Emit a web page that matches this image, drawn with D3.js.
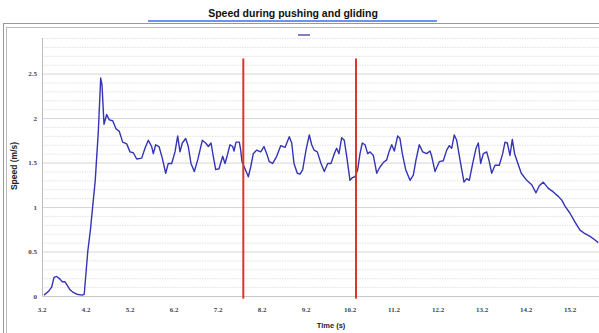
<!DOCTYPE html>
<html><head><meta charset="utf-8">
<script src="https://cdn.jsdelivr.net/npm/d3@7"></script>
<style>html,body{margin:0;padding:0;background:#fff;overflow:hidden}</style>
</head><body>
<svg id="c" width="599" height="333"></svg>
<script>
const title = "Speed during pushing and gliding";
const xLabel = "Time (s)";
const yLabel = "Speed (m/s)";
const xTicks = [3.2,4.2,5.2,6.2,7.2,8.2,9.2,10.2,11.2,12.2,13.2,14.2,15.2];
const yTicks = [0,0.5,1,1.5,2,2.5];
const yTickLabels = ["0","0.5","1","1.5","2","2.5"];
const markerTimes = [7.775, 10.336];
const markerRange = [-0.03, 2.67];
const time = [3.245,3.343,3.420,3.473,3.534,3.609,3.661,3.723,3.775,3.836,3.911,3.989,4.120,4.160,4.240,4.300,4.410,4.480,4.534,4.564,4.609,4.670,4.730,4.807,4.882,4.957,5.034,5.125,5.200,5.275,5.352,5.466,5.541,5.616,5.693,5.730,5.784,5.859,5.934,6.011,6.070,6.148,6.223,6.284,6.336,6.389,6.466,6.525,6.586,6.661,6.739,6.843,6.920,6.980,7.041,7.093,7.148,7.223,7.307,7.359,7.411,7.473,7.534,7.564,7.609,7.684,7.716,7.745,7.814,7.889,7.943,8.002,8.080,8.170,8.245,8.307,8.366,8.443,8.534,8.625,8.723,8.820,8.875,8.927,9.002,9.064,9.125,9.200,9.275,9.330,9.382,9.457,9.541,9.616,9.693,9.768,9.843,9.898,9.950,10.011,10.070,10.125,10.200,10.252,10.314,10.375,10.427,10.480,10.541,10.602,10.655,10.730,10.807,10.882,10.957,11.034,11.086,11.148,11.207,11.284,11.336,11.389,11.466,11.564,11.639,11.700,11.775,11.852,11.943,12.018,12.057,12.132,12.230,12.320,12.398,12.457,12.511,12.570,12.625,12.700,12.791,12.852,12.911,12.989,13.064,13.116,13.170,13.230,13.307,13.366,13.420,13.495,13.593,13.670,13.723,13.775,13.836,13.889,13.941,14.016,14.093,14.216,14.330,14.427,14.502,14.593,14.707,14.820,14.934,15.011,15.086,15.200,15.314,15.427,15.541,15.655,15.768,15.843];
const speed = [0.01,0.05,0.10,0.21,0.22,0.19,0.16,0.16,0.12,0.07,0.04,0.02,0.01,0.02,0.50,0.74,1.30,1.85,2.45,2.37,1.93,2.04,1.98,1.97,1.88,1.85,1.73,1.71,1.62,1.61,1.54,1.55,1.66,1.75,1.68,1.60,1.70,1.68,1.55,1.38,1.49,1.49,1.62,1.80,1.62,1.72,1.77,1.68,1.49,1.40,1.53,1.75,1.72,1.68,1.72,1.57,1.42,1.43,1.57,1.49,1.58,1.70,1.68,1.63,1.73,1.73,1.64,1.51,1.43,1.34,1.45,1.60,1.64,1.62,1.68,1.60,1.51,1.49,1.57,1.69,1.67,1.79,1.72,1.49,1.38,1.37,1.42,1.64,1.81,1.70,1.64,1.62,1.49,1.40,1.49,1.49,1.60,1.66,1.60,1.78,1.75,1.57,1.30,1.33,1.34,1.42,1.60,1.72,1.70,1.60,1.62,1.58,1.38,1.45,1.50,1.53,1.62,1.70,1.63,1.80,1.77,1.60,1.42,1.30,1.36,1.53,1.70,1.62,1.60,1.63,1.57,1.40,1.51,1.52,1.64,1.69,1.66,1.81,1.75,1.53,1.28,1.32,1.30,1.49,1.66,1.72,1.49,1.60,1.62,1.51,1.38,1.47,1.47,1.60,1.73,1.72,1.58,1.76,1.60,1.49,1.38,1.30,1.25,1.16,1.24,1.28,1.21,1.17,1.12,1.08,1.01,0.93,0.83,0.74,0.70,0.67,0.63,0.60];

const svg = d3.select("#c");
const x = d3.scaleLinear().domain([3.2, 15.9]).range([42, 600.8]);
const y = d3.scaleLinear().domain([0, 2.9]).range([296, 38]);

// frame
svg.append("rect").attr("x",3.5).attr("y",23.5).attr("width",600).attr("height",320)
  .attr("fill","none").attr("stroke","#999").attr("stroke-width",1);
svg.append("rect").attr("x",6.5).attr("y",27.5).attr("width",600).attr("height",320)
  .attr("fill","none").attr("stroke","#bbb").attr("stroke-width",1);

// title
svg.append("text").attr("x",293).attr("y",17).attr("text-anchor","middle")
  .attr("font-family","Liberation Sans, Arial, sans-serif").attr("font-weight","bold")
  .attr("font-size",10.5).attr("fill","#111").text(title);
svg.append("line").attr("x1",148).attr("x2",437).attr("y1",21).attr("y2",21)
  .attr("stroke","#3b6ff0").attr("stroke-width",1.3);

// legend mark
svg.append("line").attr("x1",298).attr("x2",310).attr("y1",35).attr("y2",35)
  .attr("stroke","#6060c0").attr("stroke-width",1.6);

// gridlines
const minor = d3.range(1, 30).map(i => i / 10).filter(v => Math.abs(v*2 - Math.round(v*2)) > 1e-6);
svg.append("g").selectAll("line").data(minor).join("line")
  .attr("x1",42).attr("x2",599).attr("y1",d=>y(d)+0.5).attr("y2",d=>y(d)+0.5)
  .attr("stroke","#e2e2e2").attr("stroke-dasharray","1.5,1");
svg.append("g").selectAll("line").data(yTicks.filter(v=>v>0)).join("line")
  .attr("x1",42).attr("x2",599).attr("y1",d=>y(d)+0.5).attr("y2",d=>y(d)+0.5)
  .attr("stroke","#d6d6d6");

// axes lines
svg.append("line").attr("x1",42.5).attr("x2",42.5).attr("y1",y(2.9)).attr("y2",y(0))
  .attr("stroke","#bbb");
svg.append("line").attr("x1",42).attr("x2",599).attr("y1",y(0)+0.5).attr("y2",y(0)+0.5)
  .attr("stroke","#c8c8c8");

// y tick labels
svg.append("g").selectAll("text").data(yTicks).join("text")
  .attr("x",37).attr("y",d=>y(d)+2.5).attr("text-anchor","end")
  .attr("font-family","Liberation Serif, Times New Roman, serif").attr("font-size",7)
  .attr("font-weight","bold").attr("fill","#444").text((d,i)=>yTickLabels[i]);
// x tick labels
svg.append("g").selectAll("text").data(xTicks).join("text")
  .attr("x",d=>x(d)).attr("y",312).attr("text-anchor","middle")
  .attr("font-family","Liberation Serif, Times New Roman, serif").attr("font-size",7)
  .attr("font-weight","bold").attr("fill","#444").text(d=>d.toFixed(1));

// axis titles
svg.append("text").attr("transform","translate(17,166) rotate(-90)").attr("text-anchor","middle")
  .attr("font-family","Liberation Sans, Arial, sans-serif").attr("font-weight","bold")
  .attr("font-size",8.5).attr("fill","#222").text(yLabel);
svg.append("text").attr("x",331).attr("y",328).attr("text-anchor","middle")
  .attr("font-family","Liberation Sans, Arial, sans-serif").attr("font-weight","bold")
  .attr("font-size",7.5).attr("fill","#222").text(xLabel);

// data line
const pts = time.map((t,i)=>[t, speed[i]]);
svg.append("path").datum(pts)
  .attr("d", d3.line().x(d=>x(d[0])).y(d=>y(d[1])).curve(d3.curveLinear))
  .attr("fill","none").attr("stroke","#3434b4").attr("stroke-width",1.4)
  .attr("stroke-linejoin","round");

// red markers
svg.append("g").selectAll("line").data(markerTimes).join("line")
  .attr("x1",d=>x(d)).attr("x2",d=>x(d)).attr("y1",y(markerRange[1])).attr("y2",y(markerRange[0]))
  .attr("stroke","#d9372b").attr("stroke-width",2);
</script>
</body></html>
